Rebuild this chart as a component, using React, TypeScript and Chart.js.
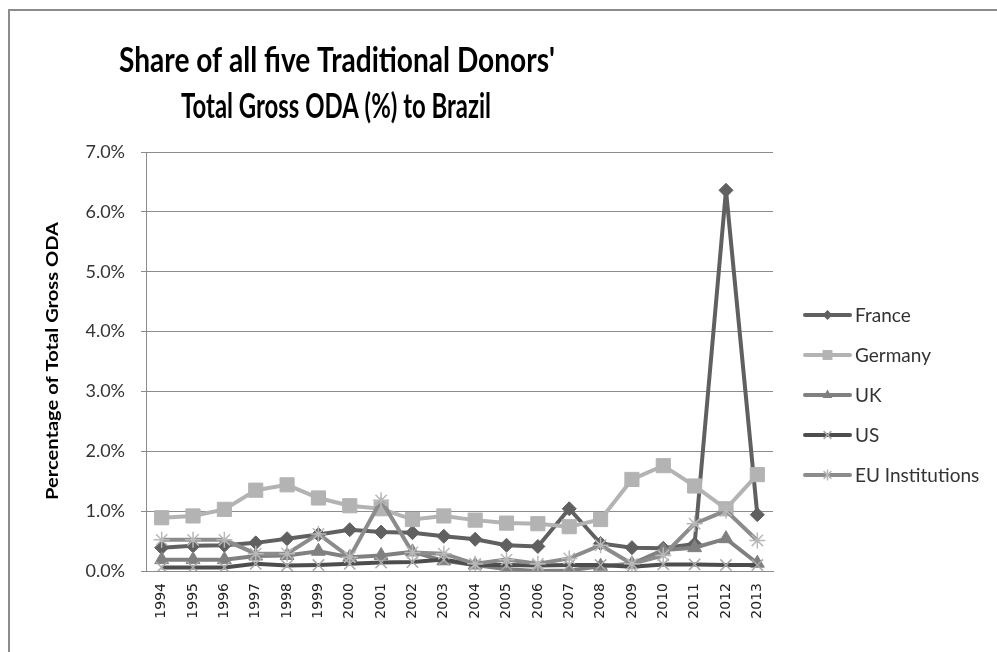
import React, { useEffect, useRef } from "react";
import { Chart, registerables } from "chart.js";

Chart.register(...registerables);

const years = ["1994","1995","1996","1997","1998","1999","2000","2001","2002","2003","2004","2005","2006","2007","2008","2009","2010","2011","2012","2013"];
const france = [0.39,0.42,0.43,0.47,0.54,0.61,0.69,0.65,0.64,0.58,0.53,0.43,0.41,1.04,0.46,0.39,0.38,0.45,6.36,0.94];
const germany = [0.89,0.92,1.03,1.35,1.44,1.22,1.09,1.04,0.86,0.92,0.85,0.80,0.79,0.74,0.86,1.53,1.76,1.42,1.04,1.61];
const uk = [0.19,0.19,0.19,0.25,0.26,0.33,0.23,0.26,0.32,0.17,0.10,0.03,0.00,0.01,0.08,0.12,0.35,0.39,0.54,0.13];
const us = [0.06,0.06,0.06,0.12,0.09,0.10,0.12,0.14,0.15,0.19,0.10,0.10,0.09,0.10,0.10,0.07,0.11,0.11,0.10,0.10];
const eu = [0.52,0.52,0.52,0.29,0.29,0.62,0.23,1.18,0.31,0.29,0.12,0.19,0.12,0.21,0.43,0.12,0.26,0.79,1.01,0.51];
const seriesNames = ["France","Germany","UK","US","EU Institutions"];
const titleLines = ["Share of all five Traditional Donors'", "Total Gross ODA (%) to Brazil"];
const yTitle = "Percentage of Total Gross ODA";

const styles = [
  { line: "#606060", marker: "#606060", point: "rectRot", r: 7, mr: 5 },
  { line: "#b3b3b3", marker: "#b3b3b3", point: "rect", r: 10, mr: 7 },
  { line: "#808080", marker: "#808080", point: "triangle", r: 8, mr: 5.5 },
  { line: "#4d4d4d", marker: "#a8a8a8", point: "crossRot", r: 8, mr: 5.5 },
  { line: "#8c8c8c", marker: "#b8b8b8", point: "star", r: 8, mr: 5.5 },
];

const CAL = "Lato, 'Open Sans', sans-serif";

function drawMarker(ctx: CanvasRenderingContext2D, style: string, x: number, y: number, r: number, color: string) {
  ctx.save();
  ctx.fillStyle = color;
  ctx.strokeStyle = color;
  ctx.lineWidth = 1.5;
  ctx.beginPath();
  if (style === "rectRot") {
    ctx.moveTo(x, y - r); ctx.lineTo(x + r, y); ctx.lineTo(x, y + r); ctx.lineTo(x - r, y); ctx.closePath(); ctx.fill();
  } else if (style === "rect") {
    const s = r * Math.SQRT1_2;
    ctx.rect(x - s, y - s, 2 * s, 2 * s); ctx.fill();
  } else if (style === "triangle") {
    ctx.moveTo(x, y - r); ctx.lineTo(x + r * 0.9, y + r * 0.55); ctx.lineTo(x - r * 0.9, y + r * 0.55); ctx.closePath(); ctx.fill();
  } else if (style === "crossRot") {
    const d = r * Math.SQRT1_2;
    ctx.moveTo(x - d, y - d); ctx.lineTo(x + d, y + d); ctx.moveTo(x + d, y - d); ctx.lineTo(x - d, y + d); ctx.stroke();
  } else if (style === "star") {
    const d = r * Math.SQRT1_2;
    ctx.moveTo(x - d, y - d); ctx.lineTo(x + d, y + d); ctx.moveTo(x + d, y - d); ctx.lineTo(x - d, y + d);
    ctx.moveTo(x, y - r); ctx.lineTo(x, y + r); ctx.stroke();
  }
  ctx.restore();
}

function fitText(ctx: CanvasRenderingContext2D, text: string, cx: number, baseline: number, width: number) {
  const w = ctx.measureText(text).width;
  ctx.save();
  ctx.translate(cx, baseline);
  ctx.scale(width / w, 1);
  ctx.textAlign = "center";
  ctx.textBaseline = "alphabetic";
  ctx.fillText(text, 0, 0);
  ctx.restore();
}

const textPlugin = {
  id: "customTexts",
  afterDraw(chart: any) {
    const ctx = chart.ctx as CanvasRenderingContext2D;
    // Title
    ctx.save();
    ctx.fillStyle = "#000";
    ctx.font = `bold 35px ${CAL}`;
    fitText(ctx, titleLines[0], 337, 72, 436);
    fitText(ctx, titleLines[1], 336, 118, 310);
    ctx.restore();
    // Y axis title
    ctx.save();
    ctx.fillStyle = "#000";
    ctx.font = `bold 17px ${CAL}`;
    ctx.translate(58, 361);
    ctx.rotate(-Math.PI / 2);
    fitText(ctx, yTitle, 0, 0, 278);
    ctx.restore();
    // Legend
    const x0 = 805, x1 = 850, yStart = 315, gap = 40;
    chart.data.datasets.forEach((ds: any, i: number) => {
      const st = styles[i];
      const y = yStart + i * gap;
      ctx.save();
      ctx.strokeStyle = st.line;
      ctx.lineWidth = 4;
      ctx.lineCap = "round";
      ctx.beginPath(); ctx.moveTo(x0, y); ctx.lineTo(x1, y); ctx.stroke();
      ctx.restore();
      drawMarker(ctx, st.point, (x0 + x1) / 2, y, st.mr, st.marker);
      ctx.save();
      ctx.fillStyle = "#333";
      ctx.font = `19px ${CAL}`;
      ctx.textBaseline = "middle";
      ctx.textAlign = "left";
      ctx.fillText(ds.label, x1 + 5, y + 1);
      ctx.restore();
    });
  },
};

export default function App() {
  const ref = useRef<HTMLCanvasElement | null>(null);
  useEffect(() => {
    if (!ref.current) return;
    const datasets = [france, germany, uk, us, eu].map((d, i) => ({
      label: seriesNames[i],
      data: d,
      borderColor: styles[i].line,
      backgroundColor: styles[i].marker,
      pointBackgroundColor: styles[i].marker,
      pointBorderColor: styles[i].marker,
      pointBorderWidth: i >= 3 ? 1.5 : 1,
      pointStyle: styles[i].point,
      pointRadius: styles[i].r,
      borderWidth: 4,
      tension: 0,
      order: 5 - i,
    }));
    const chart = new Chart(ref.current, {
      type: "line",
      data: { labels: years, datasets },
      options: {
        animation: false,
        responsive: false,
        layout: { padding: { left: 0, right: 224, top: 152, bottom: 0 } },
        plugins: { legend: { display: false }, tooltip: { enabled: false }, title: { display: false } },
        scales: {
          x: {
            offset: true,
            grid: { display: false, drawTicks: false, offset: true },
            border: { display: true, color: "#8c8c8c", width: 1 },
            ticks: {
              color: "#222",
              font: { family: "'DejaVu Sans', Verdana, sans-serif", size: 14 },
              minRotation: 90,
              maxRotation: 90,
              padding: 12,
              autoSkip: false,
            },
            afterFit: (s: any) => { s.height = 81; },
          },
          y: {
            min: 0,
            max: 7,
            ticks: {
              stepSize: 1,
              color: "#333",
              font: { family: CAL, size: 18 },
              padding: 16,
              callback: (v: any) => Number(v).toFixed(1) + "%",
            },
            grid: { color: "#8c8c8c", lineWidth: 1, tickLength: 5 },
            border: { display: true, color: "#8c8c8c", width: 1 },
            afterFit: (s: any) => { s.width = 146; },
          },
        },
      },
      plugins: [textPlugin],
    });
    return () => chart.destroy();
  }, []);

  return (
    <div style={{ position: "absolute", left: 0, top: 0, width: 997, height: 652, background: "#fff", overflow: "hidden" }}>
      <div style={{ position: "absolute", left: 8, top: 9, width: 1100, height: 800, border: "2px solid #8c8c8c", boxSizing: "border-box" }} />
      <canvas ref={ref} width={997} height={652} style={{ position: "absolute", left: 0, top: 0, width: 997, height: 652 }} />
    </div>
  );
}
